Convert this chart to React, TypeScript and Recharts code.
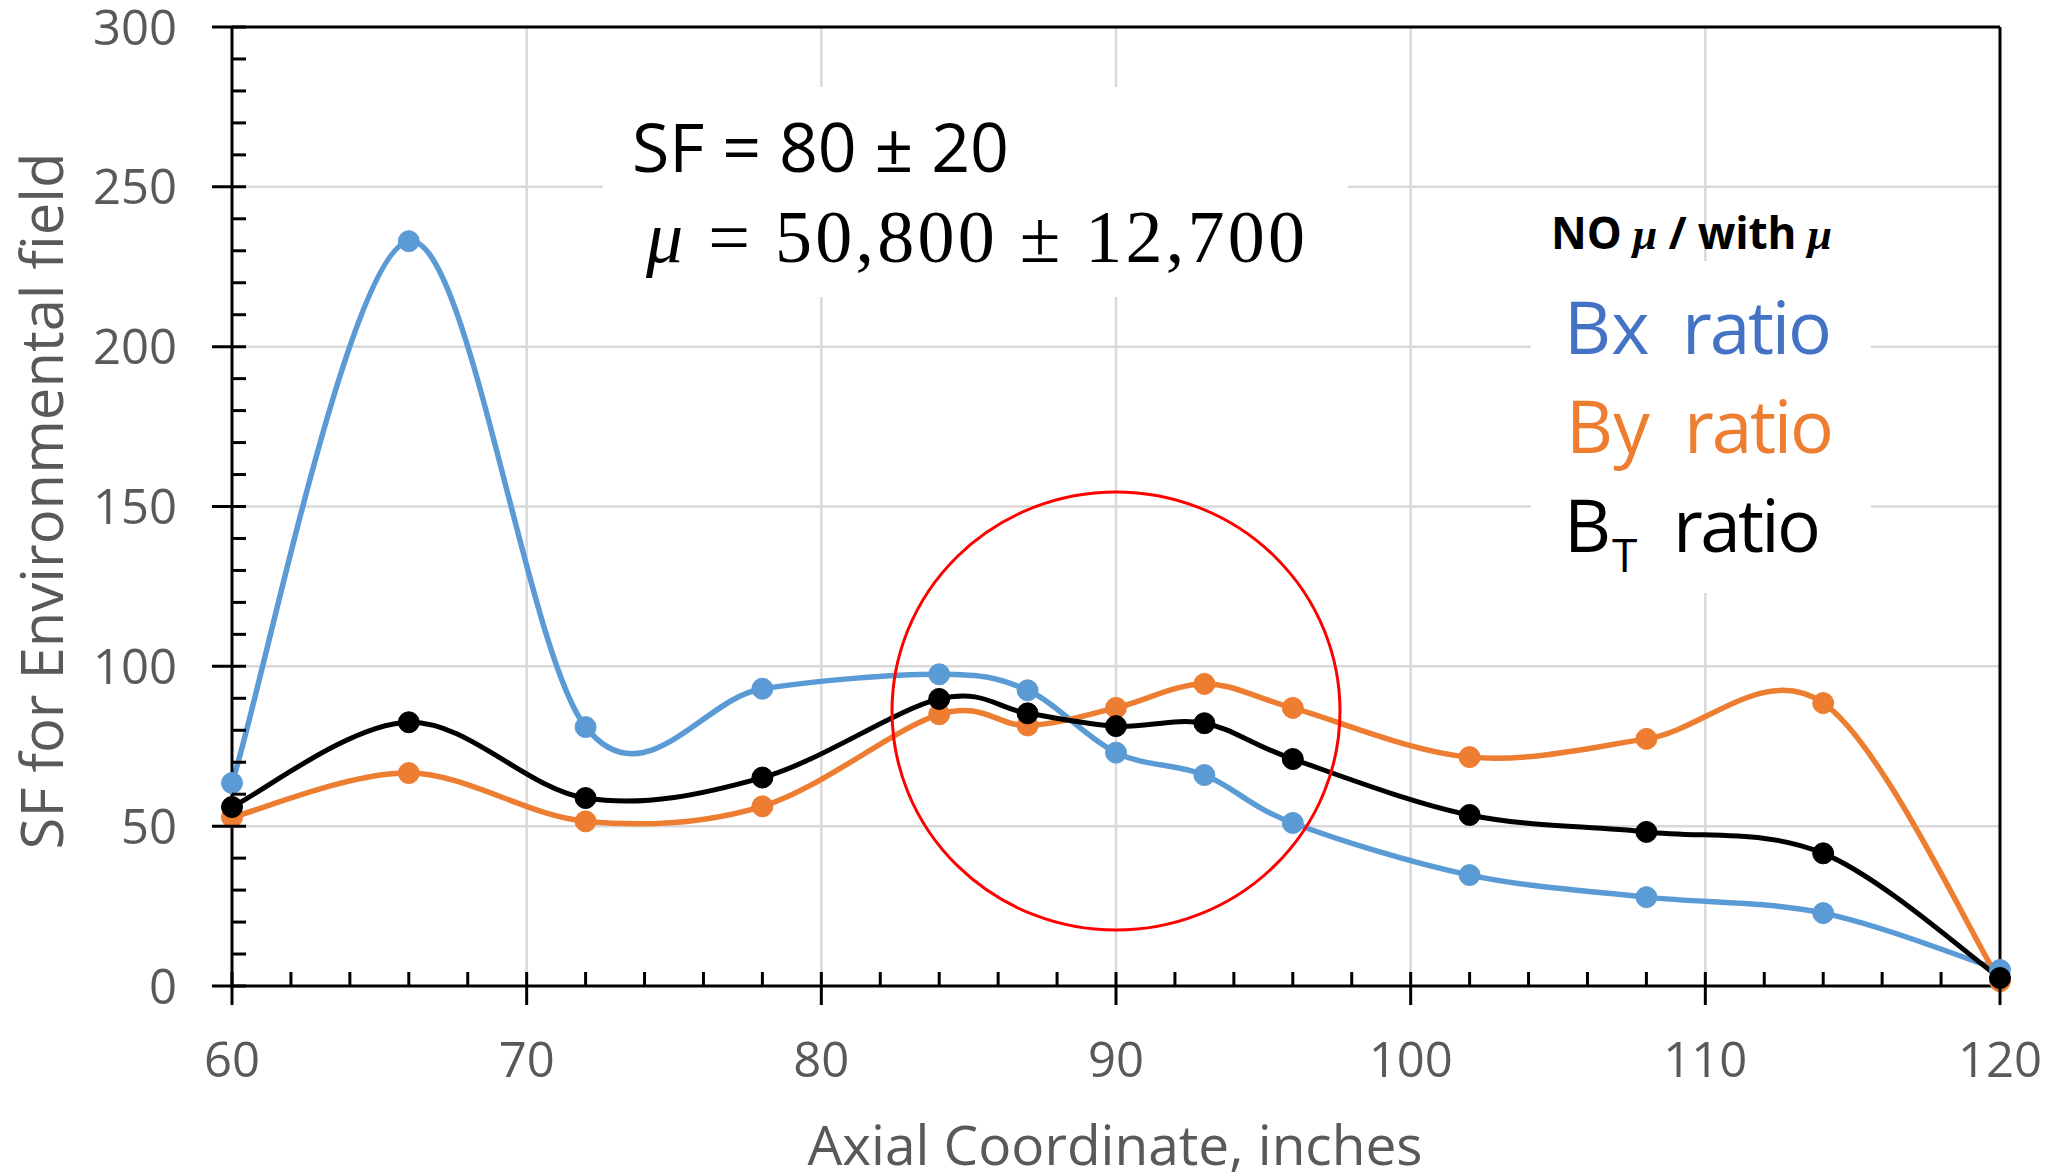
import React from "react";
import {
  CartesianGrid,
  Line,
  LineChart,
  ReferenceDot,
  ReferenceLine,
  XAxis,
  YAxis,
} from "recharts";

// axial position of each probe, inches
const axialIn = [60, 66, 72, 78, 84, 87, 90, 93, 96, 102, 108, 114, 120];
// shielding factor ratios
const bxRatio = [63.5, 233, 81, 93, 97.5, 92.5, 73, 66, 51, 34.7, 27.8, 22.8, 5];
const byRatio = [52.8, 66.6, 51.5, 56.2, 85, 81.5, 87, 94.5, 87, 71.6, 77.3, 88.5, 1.5];
const btRatio = [56, 82.5, 58.8, 65.2, 89.8, 85.3, 81.3, 82.2, 71, 53.5, 48.2, 41.5, 2.5];

const xMajorTicks = [60, 70, 80, 90, 100, 110, 120];
const yMajorTicks = [0, 50, 100, 150, 200, 250, 300];
const xGrid = [70, 80, 90, 100, 110];
const yGrid = [50, 100, 150, 200, 250];

const W = 2056;
const H = 1176;
const FONT = "'Open Sans', 'DejaVu Sans', sans-serif";
const SERIF = "'Liberation Serif', 'DejaVu Serif', serif";
const GREY = "#595959";

const BLUE = "#5B9BD5";
const ORANGE = "#ED7D31";
const BLACK = "#000000";

const fill = (from: number, to: number, step: number) => {
  const out: number[] = [];
  for (let v = from; v <= to; v += step) out.push(v);
  return out;
};
const xTicks = fill(xMajorTicks[0], xMajorTicks[xMajorTicks.length - 1], 2);
const yTicks = fill(yMajorTicks[0], yMajorTicks[yMajorTicks.length - 1], 10);

const data = axialIn.map((x, i) => ({
  x,
  bx: bxRatio[i],
  by: byRatio[i],
  bt: btRatio[i],
}));

// Excel style smoothed line (Catmull-Rom as cubic bezier)
const excelSmooth = (context: any) => {
  let pts: number[][] = [];
  return {
    areaStart() {},
    areaEnd() {},
    lineStart() {
      pts = [];
    },
    point(x: number, y: number) {
      pts.push([+x, +y]);
    },
    lineEnd() {
      const n = pts.length;
      if (!n) return;
      context.moveTo(pts[0][0], pts[0][1]);
      for (let i = 0; i < n - 1; i++) {
        const p0 = pts[Math.max(0, i - 1)];
        const p1 = pts[i];
        const p2 = pts[i + 1];
        const p3 = pts[Math.min(n - 1, i + 2)];
        context.bezierCurveTo(
          p1[0] + (p2[0] - p0[0]) / 6,
          p1[1] + (p2[1] - p0[1]) / 6,
          p2[0] - (p3[0] - p1[0]) / 6,
          p2[1] - (p3[1] - p1[1]) / 6,
          p2[0],
          p2[1]
        );
      }
    },
  };
};

const XTick = (props: any) => {
  const { x, y, payload } = props;
  const v = payload.value;
  const major = xMajorTicks.includes(v);
  return (
    <g>
      <line x1={x} x2={x} y1={y - 14} y2={major ? y + 19 : y} stroke="#000" strokeWidth={3} />
      {major && (
        <text x={x} y={y + 91} textAnchor="middle" fill={GREY} fontSize={49} fontFamily={FONT}>
          {v}
        </text>
      )}
    </g>
  );
};

const YTick = (props: any) => {
  const { x, y, payload } = props;
  const v = payload.value;
  const major = yMajorTicks.includes(v);
  return (
    <g>
      <line x1={major ? x - 20 : x} x2={x + 14} y1={y} y2={y} stroke="#000" strokeWidth={3} />
      {major && (
        <text x={x - 55} y={y + 17.5} textAnchor="end" fill={GREY} fontSize={49} fontFamily={FONT}>
          {v}
        </text>
      )}
    </g>
  );
};

const RedCircle = (props: any) => (
  <ellipse cx={props.cx} cy={props.cy} rx={224} ry={219} fill="none" stroke="#FF0000" strokeWidth={3} />
);

export default function App() {
  return (
    <div style={{ position: "fixed", left: 0, top: 0, width: W, height: H, background: "#fff" }}>
      <LineChart
        width={W}
        height={H}
        data={data}
        margin={{ top: 27, right: 56, left: 0, bottom: 0 }}
      >
        <CartesianGrid
          horizontalValues={yGrid}
          verticalValues={xGrid}
          stroke="#D9D9D9"
          strokeWidth={2.5}
        />
        <XAxis
          dataKey="x"
          type="number"
          domain={[60, 120]}
          ticks={xTicks}
          interval={0}
          height={190}
          tickSize={0}
          tickMargin={0}
          tick={<XTick />}
          axisLine={{ stroke: "#000", strokeWidth: 3 }}
        />
        <YAxis
          type="number"
          domain={[0, 300]}
          ticks={yTicks}
          interval={0}
          width={232}
          tickSize={0}
          tickMargin={0}
          tick={<YTick />}
          axisLine={{ stroke: "#000", strokeWidth: 3 }}
        />
        <ReferenceLine y={300} stroke="#000" strokeWidth={3} />
        <ReferenceLine x={120} stroke="#000" strokeWidth={3} />
        <Line
          dataKey="bx"
          type={excelSmooth as any}
          stroke={BLUE}
          strokeWidth={5.5}
          dot={{ r: 10.5, fill: BLUE, stroke: BLUE, strokeWidth: 1 }}
          isAnimationActive={false}
        />
        <Line
          dataKey="by"
          type={excelSmooth as any}
          stroke={ORANGE}
          strokeWidth={5.5}
          dot={{ r: 10.5, fill: ORANGE, stroke: ORANGE, strokeWidth: 1 }}
          isAnimationActive={false}
        />
        <Line
          dataKey="bt"
          type={excelSmooth as any}
          stroke={BLACK}
          strokeWidth={5}
          dot={{ r: 10.5, fill: BLACK, stroke: BLACK, strokeWidth: 1 }}
          isAnimationActive={false}
        />
        <ReferenceDot x={90} y={86} r={221} shape={<RedCircle />} />
      </LineChart>

      {/* text overlay: titles, annotation and hand made legend */}
      <svg
        width={W}
        height={H}
        style={{ position: "absolute", left: 0, top: 0, pointerEvents: "none" }}
      >
        <text
          transform="translate(63 501) rotate(-90)"
          textAnchor="middle"
          fill={GREY}
          fontSize={58}
          fontFamily={FONT}
        >
          SF for Environmental field
        </text>
        <text x={1115} y={1165} textAnchor="middle" fill={GREY} fontSize={55} fontFamily={FONT}>
          Axial Coordinate, inches
        </text>

        <rect x={603} y={87} width={745} height={210} fill="#fff" />
        <text x={632} y={172} fontSize={68} fontFamily={FONT} fill="#000" textLength={377} lengthAdjust="spacing">
          SF = 80 ± 20
        </text>
        <text x={646} y={262} fontSize={74} fontFamily={SERIF} fill="#000" textLength={659} lengthAdjust="spacing">
          <tspan fontStyle="italic">μ</tspan> = 50,800 ± 12,700
        </text>

        <text x={1551} y={249} fontSize={44} fontFamily={FONT} fontWeight={700} fill="#000" textLength={281} lengthAdjust="spacing">
          NO <tspan fontFamily={SERIF} fontStyle="italic">μ</tspan> / with{" "}
          <tspan fontFamily={SERIF} fontStyle="italic">μ</tspan>
        </text>
        <rect x={1531} y={261} width={340} height={332} fill="#fff" />
        <text x={1564} y={354} fontSize={73} fontFamily={FONT} fill="#4472C4">Bx</text>
        <text x={1682} y={354} fontSize={73} fontFamily={FONT} fill="#4472C4" textLength={150} lengthAdjust="spacing">ratio</text>
        <text x={1566} y={453} fontSize={73} fontFamily={FONT} fill={ORANGE}>By</text>
        <text x={1684} y={453} fontSize={73} fontFamily={FONT} fill={ORANGE} textLength={150} lengthAdjust="spacing">ratio</text>
        <text x={1564} y={552} fontSize={73} fontFamily={FONT} fill="#000">B</text>
        <text x={1612} y={572} fontSize={46} fontFamily={FONT} fill="#000">T</text>
        <text x={1673} y={552} fontSize={73} fontFamily={FONT} fill="#000" textLength={148} lengthAdjust="spacing">ratio</text>
      </svg>
    </div>
  );
}
